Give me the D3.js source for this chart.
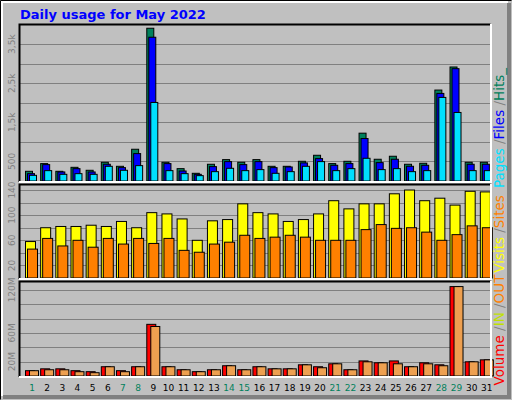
<!DOCTYPE html>
<html><head><meta charset="utf-8">
<script src="https://cdn.jsdelivr.net/npm/d3@7"></script>
<style>body{margin:0;background:#fff}svg{display:block}</style>
</head><body>
<script>
const days = d3.range(1, 32);
const weekendDays = [1,7,8,14,15,21,22,28,29];
const hits  = [248,445,248,350,274,479,376,812,3907,479,316,197,428,547,479,547,376,376,504,658,445,504,1223,556,633,428,453,2326,2916,479,479];
const files = [188,419,231,316,231,428,342,701,3677,445,256,171,368,496,419,496,342,359,462,573,402,445,1086,470,556,376,402,2240,2873,428,428];
const pages = [145,265,171,188,171,376,274,393,2009,265,188,137,239,325,265,291,197,239,376,496,265,316,581,291,316,239,265,2138,1753,265,265];
const visits = [58,80,82,82,84,82,90,80,104,102,94,60,91,93,118,104,102,90,93,102,123,110,118,118,134,140,123,127,116,138,137];
const sites  = [46,63,51,60,49,63,54,63,55,63,44,41,54,57,68,63,65,68,65,60,60,60,77,85,79,80,73,60,69,83,80];
const volume = [7.4,10,10,7.4,6,12.9,7.4,12.9,72,12.9,8.7,6,8.7,14.3,8.7,12.9,10,10,15.6,12.9,17,8.7,21,18.4,21,12.9,18.4,15.6,124.6,19.8,22.5];
const outVol = [7.4,8.7,8.7,6,4.6,12.9,6,12.9,69,12.9,8.7,6,8.7,14.3,8.7,12.9,10,10,15.6,11.5,17,8.7,19.8,18.4,17,12.9,17,14.3,124.6,19.8,22.5];
const topTicks = [500,1500,2500,3500], topGrid = [500,1000,1500,2000,2500,3000,3500];
const midTicks = [20,60,100,140], midGrid = [20,40,60,80,100,120,140];
const botTicks = [20,60,120], botGrid = [20,40,60,80,100,120];

const W=512,H=400;
const svg=d3.select("body").append("svg").attr("width",W).attr("height",H).style("font-family","'DejaVu Sans',sans-serif");
svg.append("rect").attr("width",W).attr("height",H).attr("fill","#c0c0c0");
svg.append("path").attr("d",`M0.5,${H-0.5}L0.5,0.5L${W-0.5},0.5`).attr("stroke","#000").attr("fill","none");
svg.append("path").attr("d",`M2,${H-4}L2,2L${W-4},2`).attr("stroke","#fff").attr("stroke-width",2).attr("fill","none");
svg.append("path").attr("d",`M3,${H-3}L${W-3},${H-3}L${W-3},3`).attr("stroke","#808080").attr("stroke-width",4).attr("fill","none");
svg.append("text").attr("x",20).attr("y",19).attr("fill","#0000ff").attr("font-weight","bold").attr("font-size",13).text("Daily usage for May 2022");

const x0=20,x1=490;
const x=d3.scaleBand().domain(days).range([x0,x1]).paddingInner(0);

function panel(top,bot,max,grid,ticks,fmt){
  const y=d3.scaleLinear().domain([0,max]).range([bot,top]);
  const g=svg.append("g");
  g.append("rect").attr("x",x0).attr("y",top).attr("width",x1-x0).attr("height",bot-top).attr("fill","#c0c0c0");
  g.selectAll(".gl").data(grid).join("line").attr("x1",x0).attr("x2",x1).attr("y1",d=>Math.round(y(d))+0.5).attr("y2",d=>Math.round(y(d))+0.5).attr("stroke","#808080");
  g.selectAll(".tk").data(ticks).join("text").attr("transform",d=>`translate(15,${y(d)}) rotate(-90)`).attr("text-anchor","middle").attr("font-size",9).attr("fill","#808080").text(fmt);
  return {y,g,top,bot};
}
function border(p){
  svg.append("path").attr("d",`M${x0-0.5},${p.bot+1}L${x0-0.5},${p.top-0.5}L${x1+0.5},${p.top-0.5}`).attr("stroke","#000").attr("stroke-width",2).attr("fill","none");
  svg.append("path").attr("d",`M${x0-1},${p.bot+1}L${x1+1},${p.bot+1}L${x1+1},${p.top-1}`).attr("stroke","#fff").attr("stroke-width",2).attr("fill","none");
}
function bars(p,data,off,w,color){
  p.g.append("g").selectAll("rect").data(data).join("rect")
   .attr("x",(d,i)=>x(days[i])+off).attr("width",w)
   .attr("y",d=>p.y(d)).attr("height",d=>p.bot-p.y(d))
   .attr("fill",color).attr("stroke","#000").attr("stroke-width",1);
}
const fmtK=d=>d>=1000?(d/1000).toString().replace(".",",")+"k":d;
const P1=panel(25,181,3990,topGrid,topTicks,fmtK);
bars(P1,hits,5.5,7,"#00805c");bars(P1,files,7.5,7,"#0000ff");bars(P1,pages,9.5,7,"#00e0ff");
border(P1);
const P2=panel(185,278,148,midGrid,midTicks,d=>d);
bars(P2,visits,5.5,10,"#ffff00");bars(P2,sites,7.5,10,"#ff8000");
border(P2);
const P3=panel(282,376,131,botGrid,botTicks,d=>d+"M");
bars(P3,volume,5.5,9,"#ff0000");bars(P3,outVol,9.5,9,"#eea050");
border(P3);

svg.append("g").selectAll("text").data(days).join("text").attr("x",d=>x(d)+12).attr("y",391).attr("text-anchor","middle").attr("font-size",9)
 .attr("fill",d=>weekendDays.includes(d)?"#00805c":"#000").text(d=>d);

function sideLabel(cy,parts){
  const t=svg.append("text").attr("transform",`translate(504,${cy}) rotate(-90)`).attr("text-anchor","middle").attr("font-size",13.5);
  parts.forEach(([s,c])=>t.append("tspan").attr("fill",c).text(s));
}
sideLabel(128,[["Pages ","#00e0ff"],["/","#808080"],["Files ","#0000ff"],["/","#808080"],["Hits_","#00805c"]]);
sideLabel(234,[["Visits ","#ffff00"],["/","#808080"],["Sites","#ff8000"]]);
sideLabel(330,[["Volume ","#ff0000"],["/","#808080"],["IN ","#c0e000"],["/","#808080"],["OUT","#ff8000"]]);
</script>
</body></html>
